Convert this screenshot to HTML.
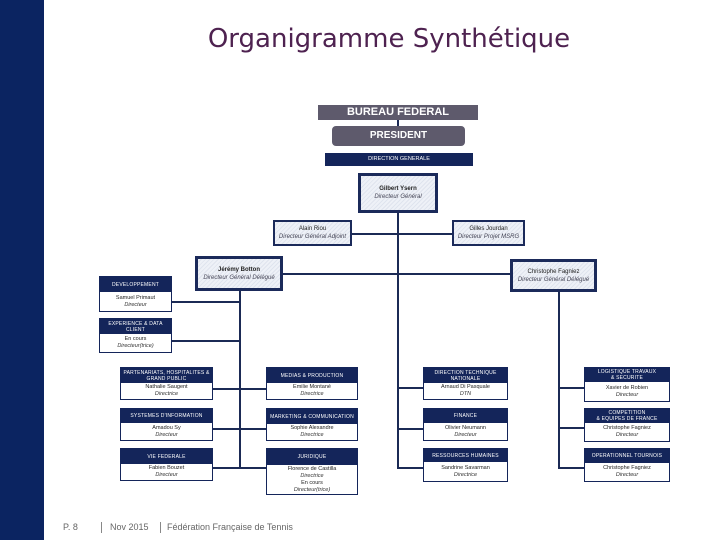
<!DOCTYPE html>
<html><head><meta charset="utf-8"><style>
body{margin:0;width:720px;height:540px;position:relative;background:#fff;font-family:"Liberation Sans",sans-serif;overflow:hidden}
.a{position:absolute;box-sizing:border-box}
.bar{left:0;top:0;width:44px;height:540px;background:#0b2461}
.t{left:44px;width:690px;top:24px;text-align:center;font-size:26px;color:#4e2250;font-family:"DejaVu Sans","Liberation Sans",sans-serif}
.ln{position:absolute;background:#1b2a55}
.big{background:repeating-linear-gradient(135deg,#eef1f7 0 2px,#dfe4ee 2px 3px);border:3px solid #1b2a5a;text-align:center;font-size:6px;color:#222;display:flex;flex-direction:column;justify-content:center;line-height:8px}
.big i{color:#445}
.dep{border:1.5px solid #14255a;background:#fff;text-align:center;font-size:5.5px;line-height:7px;color:#222;display:flex;flex-direction:column}
.dep .h{background:#14255a;color:#fff;font-size:5px;line-height:6px;display:flex;align-items:center;justify-content:center;letter-spacing:0.2px;flex:none}
.dep .b{flex:1;display:flex;flex-direction:column;justify-content:center}
.dep i{color:#333}
.f{font-size:9px;color:#666;top:522px}
</style></head><body>
<div class="a bar"></div>
<div class="a t">Organigramme Synthétique</div>

<div class="a" style="left:318px;top:105px;width:160px;height:15px;background:#5e5a6c;color:#fff;font-weight:bold;font-size:11px;text-align:center;line-height:15px">BUREAU FEDERAL</div>
<div class="ln" style="left:397px;top:120px;width:1.5px;height:6px"></div>
<div class="a" style="left:332px;top:126px;width:133px;height:20px;background:#5e5a6c;border-radius:4px;color:#fff;font-weight:bold;font-size:10px;text-align:center;line-height:20px">PRESIDENT</div>
<div class="a" style="left:325px;top:153px;width:148px;height:13px;background:#14255a;color:#fff;font-size:5.5px;text-align:center;line-height:13px">DIRECTION GENERALE</div>

<div class="ln" style="left:397px;top:213px;width:1.5px;height:255px"></div>
<div class="ln" style="left:352px;top:233px;width:100px;height:1.5px"></div>
<div class="ln" style="left:283px;top:273px;width:228px;height:1.5px"></div>
<div class="ln" style="left:239px;top:291px;width:1.5px;height:177px"></div>
<div class="ln" style="left:558px;top:292px;width:1.5px;height:176px"></div>
<div class="ln" style="left:172px;top:301px;width:67px;height:1.5px"></div>
<div class="ln" style="left:172px;top:340px;width:67px;height:1.5px"></div>
<div class="ln" style="left:213px;top:388px;width:53px;height:1.5px"></div>
<div class="ln" style="left:213px;top:428px;width:53px;height:1.5px"></div>
<div class="ln" style="left:213px;top:467px;width:53px;height:1.5px"></div>
<div class="ln" style="left:397px;top:387px;width:26px;height:1.5px"></div>
<div class="ln" style="left:397px;top:428px;width:26px;height:1.5px"></div>
<div class="ln" style="left:397px;top:467px;width:26px;height:1.5px"></div>
<div class="ln" style="left:558px;top:387px;width:26px;height:1.5px"></div>
<div class="ln" style="left:558px;top:427px;width:26px;height:1.5px"></div>
<div class="ln" style="left:558px;top:467px;width:26px;height:1.5px"></div>

<div class="a big" style="left:358px;top:173px;width:80px;height:40px"><b>Gilbert Ysern</b><i>Directeur Général</i></div>
<div class="a big" style="left:273px;top:220px;width:79px;height:26px;border-width:2px"><span>Alain Riou</span><i>Directeur Général Adjoint</i></div>
<div class="a big" style="left:452px;top:220px;width:73px;height:26px;border-width:2px"><span>Gilles Jourdan</span><i>Directeur Projet MSRG</i></div>
<div class="a big" style="left:195px;top:256px;width:88px;height:35px"><b>Jérémy Botton</b><i>Directeur Général Délégué</i></div>
<div class="a big" style="left:510px;top:259px;width:87px;height:33px"><span>Christophe Fagniez</span><i>Directeur Général Délégué</i></div>

<div class="a dep" style="left:99px;top:276px;width:73px;height:36px"><div class="h" style="height:15px">DEVELOPPEMENT</div><div class="b">Samuel Primaut<i>Directeur</i></div></div>
<div class="a dep" style="left:99px;top:318px;width:73px;height:35px"><div class="h" style="height:15px">EXPERIENCE &amp; DATA<br>CLIENT</div><div class="b">En cours<i>Directeur(trice)</i></div></div>

<div class="a dep" style="left:120px;top:367px;width:93px;height:33px"><div class="h" style="height:15px">PARTENARIATS, HOSPITALITES &amp;<br>GRAND PUBLIC</div><div class="b">Nathalie Saugent<i>Directrice</i></div></div>
<div class="a dep" style="left:120px;top:408px;width:93px;height:33px"><div class="h" style="height:14px">SYSTEMES D'INFORMATION</div><div class="b">Amadou Sy<i>Directeur</i></div></div>
<div class="a dep" style="left:120px;top:448px;width:93px;height:33px"><div class="h" style="height:15px">VIE FEDERALE</div><div class="b">Fabien Bouzet<i>Directeur</i></div></div>

<div class="a dep" style="left:266px;top:367px;width:92px;height:33px"><div class="h" style="height:15px">MEDIAS &amp; PRODUCTION</div><div class="b">Emilie Montané<i>Directrice</i></div></div>
<div class="a dep" style="left:266px;top:408px;width:92px;height:33px"><div class="h" style="height:15px">MARKETING &amp; COMMUNICATION</div><div class="b">Sophie Alexandre<i>Directrice</i></div></div>
<div class="a dep" style="left:266px;top:448px;width:92px;height:47px"><div class="h" style="height:16px">JURIDIQUE</div><div class="b">Florence de Castilla<i>Directrice</i>En cours<i>Directeur(trice)</i></div></div>

<div class="a dep" style="left:423px;top:367px;width:85px;height:33px"><div class="h" style="height:15px">DIRECTION TECHNIQUE<br>NATIONALE</div><div class="b">Arnaud Di Pasquale<i>DTN</i></div></div>
<div class="a dep" style="left:423px;top:408px;width:85px;height:33px"><div class="h" style="height:14px">FINANCE</div><div class="b">Olivier Neumann<i>Directeur</i></div></div>
<div class="a dep" style="left:423px;top:448px;width:85px;height:34px"><div class="h" style="height:13px">RESSOURCES HUMAINES</div><div class="b">Sandrine Savarman<i>Directrice</i></div></div>

<div class="a dep" style="left:584px;top:367px;width:86px;height:35px"><div class="h" style="height:14px">LOGISTIQUE TRAVAUX<br>&amp; SECURITE</div><div class="b">Xavier de Robien<i>Directeur</i></div></div>
<div class="a dep" style="left:584px;top:408px;width:86px;height:34px"><div class="h" style="height:14px">COMPETITION<br>&amp; EQUIPES DE FRANCE</div><div class="b">Christophe Fagniez<i>Directeur</i></div></div>
<div class="a dep" style="left:584px;top:448px;width:86px;height:34px"><div class="h" style="height:14px">OPERATIONNEL TOURNOIS</div><div class="b">Christophe Fagniez<i>Directeur</i></div></div>

<div class="a f" style="left:63px">P. 8</div>
<div class="a" style="left:101px;top:522px;width:1px;height:11px;background:#888"></div>
<div class="a f" style="left:110px">Nov 2015</div>
<div class="a" style="left:160px;top:522px;width:1px;height:11px;background:#888"></div>
<div class="a f" style="left:167px">Fédération Française de Tennis</div>
</body></html>
